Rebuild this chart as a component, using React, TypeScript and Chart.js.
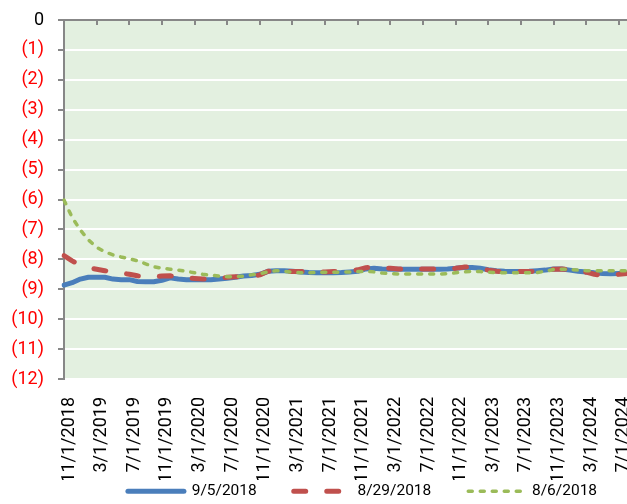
import React, { useEffect, useRef } from 'react';
import { Chart, registerables } from 'chart.js';

Chart.register(...registerables);

const CATEGORIES: string[] = [
  '11/1/2018', '12/1/2018',
  '1/1/2019', '2/1/2019', '3/1/2019', '4/1/2019', '5/1/2019', '6/1/2019', '7/1/2019', '8/1/2019', '9/1/2019', '10/1/2019', '11/1/2019', '12/1/2019',
  '1/1/2020', '2/1/2020', '3/1/2020', '4/1/2020', '5/1/2020', '6/1/2020', '7/1/2020', '8/1/2020', '9/1/2020', '10/1/2020', '11/1/2020', '12/1/2020',
  '1/1/2021', '2/1/2021', '3/1/2021', '4/1/2021', '5/1/2021', '6/1/2021', '7/1/2021', '8/1/2021', '9/1/2021', '10/1/2021', '11/1/2021', '12/1/2021',
  '1/1/2022', '2/1/2022', '3/1/2022', '4/1/2022', '5/1/2022', '6/1/2022', '7/1/2022', '8/1/2022', '9/1/2022', '10/1/2022', '11/1/2022', '12/1/2022',
  '1/1/2023', '2/1/2023', '3/1/2023', '4/1/2023', '5/1/2023', '6/1/2023', '7/1/2023', '8/1/2023', '9/1/2023', '10/1/2023', '11/1/2023', '12/1/2023',
  '1/1/2024', '2/1/2024', '3/1/2024', '4/1/2024', '5/1/2024', '6/1/2024', '7/1/2024', '8/1/2024',
];

const SERIES_LABELS = ['9/5/2018', '8/29/2018', '8/6/2018'];

const SERIES_0905: number[] = [
  -8.86, -8.78, -8.66, -8.6, -8.6, -8.6, -8.66, -8.68, -8.68, -8.74,
  -8.75, -8.75, -8.7, -8.62, -8.66, -8.68, -8.68, -8.68, -8.68, -8.66,
  -8.63, -8.6, -8.56, -8.54, -8.5, -8.4, -8.38, -8.38, -8.4, -8.42,
  -8.44, -8.45, -8.45, -8.45, -8.44, -8.42, -8.4, -8.32, -8.3, -8.32,
  -8.33, -8.33, -8.33, -8.33, -8.33, -8.33, -8.33, -8.32, -8.3, -8.27,
  -8.27, -8.3, -8.35, -8.38, -8.4, -8.41, -8.41, -8.4, -8.38, -8.36,
  -8.32, -8.32, -8.36, -8.4, -8.42, -8.45, -8.47, -8.48, -8.47, -8.46,
];

const SERIES_0829: number[] = [
  -7.88, -8.05, -8.2, -8.28, -8.33, -8.38, -8.43, -8.46, -8.5, -8.55,
  -8.58, -8.58, -8.56, -8.55, -8.58, -8.62, -8.64, -8.66, -8.66, -8.64,
  -8.6, -8.58, -8.58, -8.56, -8.52, -8.4, -8.38, -8.4, -8.41, -8.41,
  -8.41, -8.42, -8.42, -8.41, -8.4, -8.38, -8.35, -8.28, -8.26, -8.28,
  -8.3, -8.32, -8.32, -8.32, -8.32, -8.32, -8.32, -8.32, -8.3, -8.26,
  -8.25, -8.3, -8.36, -8.4, -8.41, -8.41, -8.41, -8.41, -8.4, -8.37,
  -8.33, -8.32, -8.35, -8.4, -8.43, -8.5, -8.54, -8.55, -8.5, -8.47,
];

const SERIES_0806: number[] = [
  -6.02, -6.6, -7.02, -7.35, -7.6, -7.75, -7.85, -7.92, -7.98, -8.05,
  -8.15, -8.25, -8.3, -8.33, -8.36, -8.4, -8.45, -8.5, -8.53, -8.56,
  -8.58, -8.58, -8.56, -8.52, -8.48, -8.42, -8.38, -8.4, -8.43, -8.45,
  -8.45, -8.44, -8.43, -8.43, -8.43, -8.42, -8.41, -8.4, -8.42, -8.46,
  -8.48, -8.49, -8.49, -8.49, -8.49, -8.49, -8.49, -8.48, -8.45, -8.42,
  -8.4, -8.41, -8.43, -8.44, -8.45, -8.45, -8.45, -8.45, -8.44, -8.4,
  -8.34, -8.33, -8.34, -8.36, -8.38, -8.38, -8.38, -8.38, -8.38, -8.38,
];

const Y_MIN = -12;
const Y_MAX = 0;
const X_TICK_EVERY = 4;

const PLOT_BG = '#E3F0E0';
const AXIS_GRAY = '#878787';
const FONT = 'Roboto';

const CANVAS_W = 627;
const CANVAS_H = 504;
const AXIS_LEFT = 64;
const PLOT_BOTTOM = 379;
const LEGEND_PAD = 37;
const LEGEND_BOX_H = 24;
const LEGEND_SHIFT = 49;
const LEGEND_ITEM_CENTER = 492;

const plotBackground = {
  id: 'plotBackground',
  beforeDraw(chart: any) {
    const { ctx, chartArea: a } = chart;
    ctx.save();
    ctx.fillStyle = PLOT_BG;
    ctx.fillRect(a.left, a.top, a.right - a.left, a.bottom - a.top);
    ctx.restore();
  },
};

const topAxis = {
  id: 'topAxis',
  afterDraw(chart: any) {
    const { ctx, chartArea: a } = chart;
    const xs = chart.scales.x;
    ctx.save();
    ctx.strokeStyle = AXIS_GRAY;
    ctx.lineWidth = 2;
    ctx.beginPath();
    ctx.moveTo(a.left - 1, a.top);
    ctx.lineTo(a.right, a.top);
    ctx.stroke();
    ctx.beginPath();
    for (let i = X_TICK_EVERY; i < CATEGORIES.length; i += X_TICK_EVERY) {
      const px = Math.round(xs.getPixelForValue(i));
      ctx.moveTo(px, a.top);
      ctx.lineTo(px, a.top + 5);
    }
    ctx.stroke();
    ctx.restore();
  },
};

const legendPlace = {
  id: 'legendPlace',
  afterLayout(chart: any) {
    const lg = chart.legend;
    if (lg) {
      lg.left += LEGEND_SHIFT;
      lg.right += LEGEND_SHIFT;
      lg.top = LEGEND_ITEM_CENTER - LEGEND_PAD - 8.5;
      lg.bottom = chart.height;
      lg.height = lg.bottom - lg.top;
    }
  },
};

export default function App() {
  const ref = useRef<HTMLCanvasElement | null>(null);

  useEffect(() => {
    if (!ref.current) return;
    const chart = new Chart(ref.current, {
      type: 'line',
      data: {
        labels: CATEGORIES,
        datasets: [
          {
            label: SERIES_LABELS[0],
            data: SERIES_0905,
            borderColor: '#4A7EBB',
            backgroundColor: '#4A7EBB',
            borderWidth: 5,
            borderCapStyle: 'round',
            borderJoinStyle: 'round',
            pointRadius: 0,
            tension: 0,
            order: 2,
          },
          {
            label: SERIES_LABELS[1],
            data: SERIES_0829,
            borderColor: '#C0504D',
            backgroundColor: '#C0504D',
            borderWidth: 5,
            borderDash: [12, 21],
            borderCapStyle: 'round',
            borderJoinStyle: 'round',
            pointRadius: 0,
            tension: 0,
            order: 1,
          },
          {
            label: SERIES_LABELS[2],
            data: SERIES_0806,
            borderColor: '#9BBB59',
            backgroundColor: '#9BBB59',
            borderWidth: 3.5,
            borderDash: [4, 8],
            borderCapStyle: 'round',
            borderJoinStyle: 'round',
            pointRadius: 0,
            tension: 0,
            order: 0,
          },
        ],
      },
      options: {
        responsive: false,
        animation: false,
        layout: { padding: { top: 20, left: 0, right: 0, bottom: 0 } },
        plugins: {
          tooltip: { enabled: false },
          legend: {
            position: 'bottom',
            maxHeight: LEGEND_BOX_H,
            labels: {
              usePointStyle: true,
              pointStyle: 'line',
              pointStyleWidth: 56,
              padding: LEGEND_PAD,
              color: '#000000',
              font: { family: FONT, size: 15.5 },
              generateLabels: (c: any) =>
                c.data.datasets.map((ds: any, i: number) => ({
                  text: ds.label,
                  fillStyle: ds.borderColor,
                  strokeStyle: ds.borderColor,
                  lineWidth: ds.borderWidth,
                  lineDash: ds.borderDash || [],
                  lineCap: 'round',
                  lineJoin: 'round',
                  pointStyle: 'line',
                  fontColor: '#000000',
                  hidden: false,
                  datasetIndex: i,
                })),
            },
          },
        },
        scales: {
          x: {
            type: 'category',
            grid: { display: false },
            border: { display: false },
            ticks: {
              autoSkip: false,
              maxRotation: 90,
              minRotation: 90,
              padding: 10,
              labelOffset: 5,
              color: '#000000',
              font: { family: FONT, size: 18 },
              callback: (_v: any, i: number) => (i % X_TICK_EVERY === 0 ? CATEGORIES[i] : ''),
            },
            afterFit: (s: any) => {
              s.height = s.chart.height - PLOT_BOTTOM - LEGEND_BOX_H;
              s.paddingLeft = 0;
              s.paddingRight = 0;
            },
          },
          y: {
            min: Y_MIN,
            max: Y_MAX,
            grid: {
              color: '#FFFFFF',
              lineWidth: 2,
              tickColor: AXIS_GRAY,
              tickLength: 6,
              tickWidth: 2,
            },
            border: { display: true, color: AXIS_GRAY, width: 2 },
            ticks: {
              stepSize: 1,
              padding: 14,
              font: { family: FONT, size: 18 },
              color: (ctx: any) => (ctx.tick && ctx.tick.value === 0 ? '#000000' : '#FF0000'),
              callback: (v: any) => (Number(v) === 0 ? '0' : '(' + Math.abs(Number(v)) + ')'),
            },
            afterFit: (s: any) => {
              s.width = AXIS_LEFT;
              s.paddingTop = 0;
              s.paddingBottom = 0;
            },
          },
        },
      },
      plugins: [plotBackground, topAxis, legendPlace],
    } as any);
    return () => chart.destroy();
  }, []);

  return (
    <div style={{ position: 'absolute', left: 0, top: 0, width: CANVAS_W, height: CANVAS_H, background: '#FFFFFF' }}>
      <canvas ref={ref} width={CANVAS_W} height={CANVAS_H} style={{ display: 'block' }} />
    </div>
  );
}
